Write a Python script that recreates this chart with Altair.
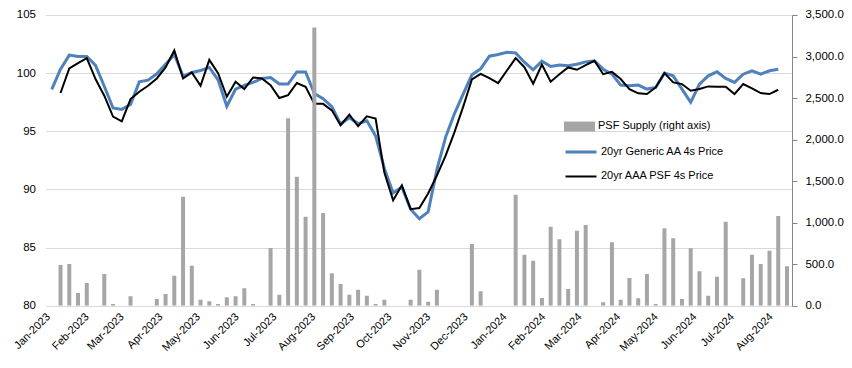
import altair as alt
import pandas as pd

# Weekly observation dates (Fridays), 85 weeks
dates = pd.date_range("2022-12-30", periods=85, freq="7D")

# 20yr Generic AA 4s Price (weeks 0..83)
generic_aa = [
    98.6, 100.34, 101.55, 101.43, 101.43, 100.66, 98.87, 97.0, 96.88, 97.3,
    99.25, 99.4, 99.94, 100.77, 101.6, 99.75, 100.05, 100.23, 100.49, 99.42,
    97.15, 98.63, 98.95, 99.2, 99.54, 99.63, 99.06, 99.06, 100.1, 100.1,
    98.25, 97.8, 97.12, 95.62, 96.17, 95.66, 95.9, 94.6, 91.8, 89.7,
    90.2, 88.3, 87.48, 88.06, 91.7, 94.5, 96.5, 98.2, 99.86, 100.37,
    101.46, 101.6, 101.8, 101.74, 100.94, 100.29, 101.03, 100.57, 100.69, 100.63,
    100.77, 100.97, 101.06, 100.34, 99.91, 98.97, 98.91, 98.97, 98.63, 98.77,
    100.0, 99.77, 98.63, 97.49, 99.06, 99.77, 100.11, 99.54, 99.2, 99.91,
    100.2, 99.91, 100.2, 100.34,
]

# 20yr AAA PSF 4s Price (weeks 1..83)
aaa_psf = [
    98.29, 100.4, 100.86, 101.29, 99.49, 98.06, 96.26, 95.86, 97.77, 98.4,
    98.91, 99.54, 100.49, 101.95, 99.54, 100.06, 98.91, 101.14, 100.0, 97.97,
    99.26, 98.63, 99.63, 99.54, 98.97, 97.86, 98.11, 99.15, 98.82, 97.36,
    97.36, 96.8, 95.52, 96.43, 95.43, 96.28, 96.1, 91.45, 89.07, 90.35,
    88.3, 88.4, 89.65, 91.2, 92.9, 94.9, 97.1, 99.46, 99.94, 99.57,
    99.14, 100.23, 101.29, 100.51, 99.09, 100.74, 99.26, 99.91, 100.49, 100.29,
    100.69, 101.06, 99.91, 100.11, 99.49, 98.63, 98.26, 98.2, 98.77, 100.0,
    99.2, 99.06, 98.49, 98.63, 98.86, 98.83, 98.83, 98.2, 99.06, 98.69,
    98.29, 98.2, 98.57,
]

# PSF Supply (right axis), weeks 1..84
psf_supply = [
    490, 502, 153, 273, 0, 382, 20, 0, 113, 0,
    0, 81, 141, 361, 1312, 482, 73, 52, 20, 101,
    113, 209, 20, 0, 695, 133, 2256, 1553, 1071, 3350,
    1116, 390, 261, 133, 193, 120, 20, 73, 0, 0,
    73, 434, 48, 193, 0, 0, 0, 743, 173, 0,
    0, 0, 1337, 614, 542, 93, 951, 801, 201, 903,
    972, 0, 41, 763, 73, 334, 89, 382, 20, 932,
    811, 81, 691, 414, 120, 349, 1011, 0, 329, 614,
    502, 662, 1080, 474,
]

series_names = ["20yr Generic AA 4s Price", "20yr AAA PSF 4s Price"]
bar_name = "PSF Supply (right axis)"

lines_df = pd.concat([
    pd.DataFrame({"date": dates[0:84], "price": generic_aa, "series": series_names[0]}),
    pd.DataFrame({"date": dates[1:84], "price": aaa_psf, "series": series_names[1]}),
], ignore_index=True)

bars_df = pd.DataFrame({"date": dates[1:85], "supply": psf_supply, "series": bar_name})

FONT = "Liberation Sans"

month_ticks = [alt.DateTime(year=2023 + (m // 12), month=(m % 12) + 1, date=1) for m in range(20)]

x_enc = alt.X(
    "date:T",
    scale=alt.Scale(domain=[alt.DateTime(year=2022, month=12, date=29),
                            alt.DateTime(year=2024, month=8, date=9)]),
    axis=alt.Axis(values=month_ticks, format="%b-%Y", labelAngle=315,
                  labelAlign="right", labelBaseline="middle", labelPadding=9,
                  labelOffset=-6,
                  ticks=False, domain=False, grid=False, title=None,
                  labelFont=FONT, labelFontSize=11, labelColor="#000000",
                  labelOverlap=False),
)

line_legend = alt.Legend(orient="none", legendX=518.5, legendY=120,
                         title=None, symbolType="stroke", symbolSize=961,
                         labelFont=FONT, labelFontSize=11, labelColor="#000000",
                         labelOffset=3, padding=0, rowPadding=2)

lines = alt.Chart(lines_df).mark_line(clip=True).encode(
    x=x_enc,
    y=alt.Y("price:Q",
            scale=alt.Scale(domain=[80, 105], nice=False, zero=False),
            axis=alt.Axis(orient="left", values=[80, 85, 90, 95, 100, 105],
                          grid=True, gridColor="#d9d9d9", gridWidth=1,
                          domain=False, ticks=False, labelPadding=10,
                          labelFont=FONT, labelFontSize=11.5, labelColor="#000000",
                          title=None)),
    color=alt.Color("series:N",
                    scale=alt.Scale(domain=series_names, range=["#4f81bd", "#000000"]),
                    legend=line_legend),
    strokeWidth=alt.StrokeWidth("series:N",
                                scale=alt.Scale(domain=series_names, range=[3, 2]),
                                legend=line_legend),
    order=alt.Order("date:T"),
)

bars = alt.Chart(bars_df).mark_bar(size=4, clip=True).encode(
    x=x_enc,
    y=alt.Y("supply:Q",
            scale=alt.Scale(domain=[0, 3500], nice=False),
            axis=alt.Axis(orient="right", values=[0, 500, 1000, 1500, 2000, 2500, 3000, 3500],
                          format=",.1f", grid=False, domain=True, domainColor="#868686",
                          ticks=True, tickColor="#868686", tickSize=5, labelPadding=8,
                          labelFont=FONT, labelFontSize=11.5, labelColor="#000000",
                          title=None)),
    color=alt.Color("series:N",
                    scale=alt.Scale(domain=[bar_name], range=["#a6a6a6"]),
                    legend=alt.Legend(orient="none", legendX=518.5, legendY=96,
                                      title=None,
                                      symbolType="M-1,-0.32L1,-0.32L1,0.32L-1,0.32Z",
                                      symbolSize=961, symbolStrokeWidth=0,
                                      labelFont=FONT, labelFontSize=11, labelColor="#000000",
                                      labelOffset=3, padding=0)),
)

chart = alt.layer(lines, bars).resolve_scale(
    y="independent", color="independent", strokeWidth="independent"
).properties(
    width=746.5, height=290.7,
    padding={"left": 37.5, "top": 7, "right": 52, "bottom": 50},
    autosize=alt.AutoSizeParams(type="none"),
).configure_view(stroke=None)

chart.save("out.html", embed_options={"renderer": "svg", "actions": False})
